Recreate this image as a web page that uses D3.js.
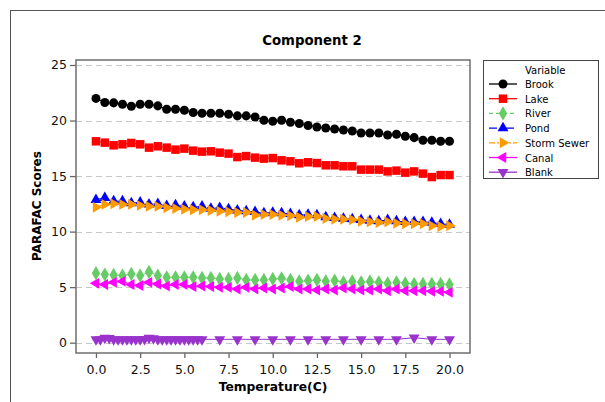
<!DOCTYPE html>
<html>
<head>
<meta charset="utf-8">
<script src="https://cdn.jsdelivr.net/npm/d3@7"></script>
<style>
  body { margin: 0; background: #fff; }
  text { font-family: "DejaVu Sans", Verdana, sans-serif; }
</style>
</head>
<body>
<div id="my_dataviz"></div>
<script>
// data
var temps = [0, 0.5, 1, 1.5, 2, 2.5, 3, 3.5, 4, 4.5, 5, 5.5, 6, 6.5, 7, 7.5, 8, 8.5, 9, 9.5,
             10, 10.5, 11, 11.5, 12, 12.5, 13, 13.5, 14, 14.5, 15, 15.5, 16, 16.5, 17, 17.5, 18, 18.5, 19, 19.5, 20];
var brook = [21.99, 21.62, 21.59, 21.47, 21.29, 21.47, 21.47, 21.32, 21.02, 21.02, 20.93, 20.72, 20.66, 20.66, 20.66, 20.57, 20.42, 20.42, 20.32, 20.03,
             19.94, 20.03, 19.85, 19.73, 19.55, 19.42, 19.33, 19.24, 19.15, 19.06, 18.88, 18.88, 18.88, 18.70, 18.76, 18.58, 18.46, 18.22, 18.22, 18.13, 18.13];
var lake = [18.13, 18.01, 17.77, 17.86, 17.98, 17.86, 17.56, 17.68, 17.56, 17.38, 17.47, 17.29, 17.20, 17.23, 17.11, 17.02, 16.71, 16.80, 16.66, 16.57,
            16.62, 16.42, 16.33, 16.15, 16.24, 16.17, 15.97, 15.97, 15.88, 15.88, 15.58, 15.58, 15.58, 15.42, 15.49, 15.31, 15.42, 15.22, 14.91, 15.09, 15.09];
var river = [6.25, 6.13, 6.10, 6.04, 6.19, 6.04, 6.37, 6.04, 5.88, 5.88, 5.88, 5.88, 5.83, 5.83, 5.74, 5.74, 5.83, 5.65, 5.65, 5.65,
             5.74, 5.79, 5.65, 5.52, 5.59, 5.65, 5.52, 5.59, 5.43, 5.52, 5.43, 5.50, 5.43, 5.34, 5.43, 5.34, 5.29, 5.29, 5.29, 5.29, 5.23];
var pond = [12.87, 13.05, 12.74, 12.74, 12.56, 12.63, 12.45, 12.51, 12.33, 12.38, 12.27, 12.20, 12.27, 12.08, 12.15, 12.02, 11.91, 11.84, 11.79, 11.66,
            11.72, 11.66, 11.61, 11.48, 11.54, 11.48, 11.30, 11.25, 11.18, 11.12, 11.06, 11.00, 10.94, 11.06, 10.94, 10.88, 10.88, 10.88, 10.82, 10.70, 10.64];
var stormSewer = [12.20, 12.45, 12.51, 12.45, 12.45, 12.36, 12.27, 12.27, 12.15, 12.08, 12.02, 11.97, 11.97, 11.90, 11.84, 11.79, 11.72, 11.72, 11.48, 11.54,
                  11.54, 11.48, 11.43, 11.30, 11.36, 11.36, 11.18, 11.12, 11.12, 11.06, 10.94, 10.88, 10.82, 10.88, 10.76, 10.70, 10.70, 10.70, 10.52, 10.46, 10.52];
var canal = [5.34, 5.23, 5.43, 5.52, 5.23, 5.14, 5.43, 5.29, 5.11, 5.23, 5.23, 5.05, 5.11, 5.05, 4.98, 4.98, 4.84, 4.98, 4.84, 4.93,
             4.84, 4.93, 5.05, 4.84, 4.84, 4.75, 4.84, 4.75, 4.93, 4.84, 4.75, 4.75, 4.84, 4.68, 4.84, 4.68, 4.68, 4.68, 4.62, 4.62, 4.53];
// blank was measured on its own temperature grid
var blankTemps = [0, 0.25, 0.5, 0.75, 1, 1.25, 1.5, 1.75, 2, 2.25, 2.5, 2.75, 3, 3.25, 3.5, 3.75, 4, 4.25, 4.5, 4.75, 5, 5.25, 5.5, 5.75, 6,
                  7, 8, 9, 10, 11, 12, 13, 14, 15, 16, 17, 18, 19, 20];
var blank = [0.30, 0.30, 0.42, 0.40, 0.30, 0.30, 0.30, 0.30, 0.30, 0.30, 0.30, 0.32, 0.42, 0.38, 0.30, 0.30, 0.30, 0.30, 0.30, 0.30, 0.30, 0.30, 0.30, 0.30, 0.30,
             0.30, 0.30, 0.30, 0.30, 0.30, 0.30, 0.30, 0.30, 0.30, 0.30, 0.30, 0.45, 0.30, 0.30];
var xTicks = [0, 2.5, 5, 7.5, 10, 12.5, 15, 17.5, 20];
var yTicks = [0, 5, 10, 15, 20, 25];

var series = [
  {name: "Brook", x: temps, y: brook, color: "#000000", sym: d3.symbolCircle, size: 64, rot: 0, dash: null},
  {name: "Lake", x: temps, y: lake, color: "#ff0000", sym: d3.symbolSquare, size: 72, rot: 0, dash: null},
  {name: "River", x: temps, y: river, color: "#66cc66", sym: d3.symbolDiamond, size: 60, rot: 0, dash: "4,3"},
  {name: "Pond", x: temps, y: pond, color: "#0000ff", sym: d3.symbolTriangle, size: 52, rot: 0, dash: "8,3,3,3"},
  {name: "Storm Sewer", x: temps, y: stormSewer, color: "#ff9900", sym: d3.symbolTriangle, size: 52, rot: 90, dash: "6,2,2,2"},
  {name: "Canal", x: temps, y: canal, color: "#ff00ff", sym: d3.symbolTriangle, size: 52, rot: -90, dash: null},
  {name: "Blank", x: blankTemps, y: blank, color: "#9933cc", sym: d3.symbolTriangle, size: 52, rot: 180, dash: null}
];

var svg = d3.select("#my_dataviz")
  .append("svg")
    .attr("width", 605)
    .attr("height", 402);

// outer frame of the figure
svg.append("rect")
  .attr("x", 10.5).attr("y", 10.5)
  .attr("width", 620).attr("height", 420)
  .attr("fill", "none").attr("stroke", "#555").attr("stroke-width", 1);

// plot box
var plot = {left: 76, right: 470, top: 60, bottom: 353};

var x = d3.scaleLinear()
  .domain([-1.13, 21.16])
  .range([plot.left, plot.right]);
var y = d3.scaleLinear()
  .domain([-0.93, 25.45])
  .range([plot.bottom, plot.top]);

// grid lines
svg.append("g")
  .selectAll("line")
  .data(yTicks)
  .enter()
    .append("line")
    .attr("x1", plot.left).attr("x2", plot.right)
    .attr("y1", function(d) { return Math.round(y(d)) + 0.5; })
    .attr("y2", function(d) { return Math.round(y(d)) + 0.5; })
    .attr("stroke", "#c8c8c8")
    .attr("stroke-dasharray", "6,4");

// axes
var xAxis = svg.append("g")
  .attr("transform", "translate(0," + plot.bottom + ")")
  .call(d3.axisBottom(x).tickValues(xTicks).tickFormat(d3.format(".1f")).tickSize(5).tickSizeOuter(0));
var yAxis = svg.append("g")
  .attr("transform", "translate(" + plot.left + ",0)")
  .call(d3.axisLeft(y).tickValues(yTicks).tickSize(6).tickSizeOuter(0));
[xAxis, yAxis].forEach(function(a) {
  a.select(".domain").remove();
  a.selectAll(".tick line").attr("stroke", "#666").attr("stroke-width", 1.3);
  a.selectAll(".tick text").attr("font-size", 12.5).attr("fill", "#111")
    .attr("font-family", "DejaVu Sans, sans-serif");
});
xAxis.selectAll(".tick text").attr("dy", "1.05em");
yAxis.selectAll(".tick text").attr("x", -9);

// lines + markers
var line = d3.line()
  .x(function(d) { return x(d[0]); })
  .y(function(d) { return y(d[1]); });

series.forEach(function(s) {
  var pts = s.x.map(function(v, i) { return [v, s.y[i]]; });
  var g = svg.append("g");
  g.append("path")
    .datum(pts)
    .attr("d", line)
    .attr("fill", "none")
    .attr("stroke", s.color)
    .attr("stroke-width", 1)
    .attr("stroke-dasharray", s.dash);
  g.selectAll("path.mk")
    .data(pts)
    .enter()
      .append("path")
      .attr("class", "mk")
      .attr("d", d3.symbol().type(s.sym).size(s.size))
      .attr("transform", function(d) { return "translate(" + x(d[0]) + "," + y(d[1]) + ") rotate(" + s.rot + ")"; })
      .attr("fill", s.color);
});

// plot border on top
svg.append("rect")
  .attr("x", plot.left).attr("y", plot.top)
  .attr("width", plot.right - plot.left).attr("height", plot.bottom - plot.top)
  .attr("fill", "none").attr("stroke", "#6e6e6e").attr("stroke-width", 1.5);

// titles
svg.append("text")
  .attr("x", 312).attr("y", 45)
  .attr("text-anchor", "middle")
  .attr("font-size", 13.3).attr("font-weight", "bold")
  .text("Component 2");
svg.append("text")
  .attr("x", 273).attr("y", 391)
  .attr("text-anchor", "middle")
  .attr("font-size", 12.3).attr("font-weight", "bold")
  .text("Temperature(C)");
svg.append("text")
  .attr("transform", "translate(41,206) rotate(-90)")
  .attr("text-anchor", "middle")
  .attr("font-size", 12).attr("font-weight", "bold")
  .text("PARAFAC Scores");

// legend
var leg = svg.append("g");
leg.append("rect")
  .attr("x", 483.5).attr("y", 60.5)
  .attr("width", 115).attr("height", 118)
  .attr("fill", "none").attr("stroke", "#444").attr("stroke-width", 1);
leg.append("text")
  .attr("x", 525).attr("y", 74)
  .attr("font-size", 10)
  .text("Variable");
series.forEach(function(s, i) {
  var ly = 84 + i * 14.7;
  leg.append("line")
    .attr("x1", 489).attr("x2", 517)
    .attr("y1", ly).attr("y2", ly)
    .attr("stroke", s.color).attr("stroke-width", 1.3)
    .attr("stroke-dasharray", s.dash);
  leg.append("path")
    .attr("d", d3.symbol().type(s.sym).size(s.size))
    .attr("transform", "translate(503," + ly + ") rotate(" + s.rot + ")")
    .attr("fill", s.color);
  leg.append("text")
    .attr("x", 525).attr("y", ly + 4)
    .attr("font-size", 10)
    .text(s.name);
});
</script>
</body>
</html>
